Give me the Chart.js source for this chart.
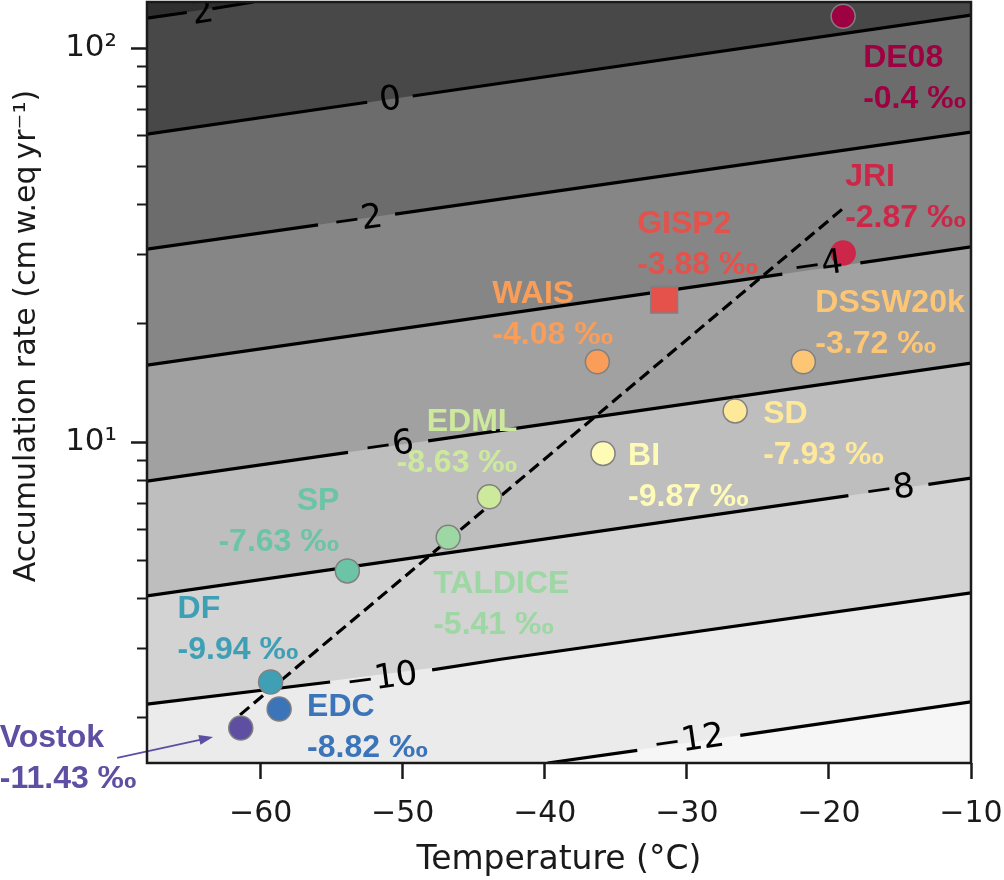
<!DOCTYPE html>
<html>
<head>
<meta charset="utf-8">
<script src="https://cdn.jsdelivr.net/npm/chart.js@4.4.1/dist/chart.umd.min.js"></script>
<style>
  html, body { margin: 0; padding: 0; background: #fff; }
  #wrap { width: 1004px; height: 880px; }
</style>
</head>
<body>
<div id="wrap"><canvas id="myChart"></canvas></div>
<script>
const ctx = document.getElementById('myChart').getContext('2d');

// ice core sites
const siteNames = ['DE08', 'JRI', 'GISP2', 'WAIS', 'DSSW20k', 'SD', 'BI', 'EDML', 'TALDICE', 'SP', 'DF', 'EDC', 'Vostok'];
const siteTemp = [-19.0, -19.0, -31.6, -36.3, -21.8, -26.6, -35.9, -43.9, -46.8, -53.9, -59.3, -58.7, -61.4];
const siteAccum = [120.5, 30.2, 23.0, 16.0, 16.0, 12.0, 9.36, 7.26, 5.73, 4.71, 2.46, 2.10, 1.88];
const siteDelta = ['-0.4', '-2.87', '-3.88', '-4.08', '-3.72', '-7.93', '-9.87', '-8.63', '-5.41', '-7.63', '-9.94', '-8.82', '-11.43'];

// dashed fit line
const fitX = [-61.45, -19.0];
const fitY = [2.03, 39.2];

// contour lines (level, traced points)
const contourLevels = [2, 0, -2, -4, -6, -8, -10, -12];
const contourX = [
    [-68, -60.5],
    [-68, -10],
    [-68, -10],
    [-68, -10],
    [-68, -10],
    [-68, -10],
    [-68, -43.1, -10],
    [-39.8, -10]
];
const contourY = [
    [119.2, 131],
    [60.5, 121.3],
    [30.9, 61.2],
    [15.68, 31.3],
    [7.96, 15.87],
    [4.07, 8.10],
    [2.16, 2.81, 4.14],
    [1.532, 2.19]
];
// where each contour is cut for its inline label
const gapX = [[-65.2, -63.4], [-52.5, -49.3], [-55.96, -50.54], [-23.28, -17.79], [-53.85, -48.21], [-18.63, -13.0], [-55.11, -47.93], [-33.49, -26.24]];
const gapY = [[123.2, 125.9], [72.9, 75.6], [35.6, 37.9], [26.7, 28.5], [9.42, 10.07], [7.31, 7.81], [2.46, 2.64], [1.65, 1.80]];
const labelX = [-64.1, -50.9, -53.2, -20.8, -51.0, -15.75, -51.5, -29.9];
const labelY = [124.9, 75.1, 37.2, 28.5, 9.94, 7.69, 2.55, 1.773];

// axes
const tempTicks = [-60, -50, -40, -30, -20, -10];
const accumTicks = [2, 3, 4, 5, 6, 7, 8, 9, 10, 20, 30, 40, 50, 60, 70, 80, 90, 100];
const accumTickLabels = ['', '', '', '', '', '', '', '', '10\u00b9', '', '', '', '', '', '', '', '', '10\u00b2'];

// styles
const bandTop = '#484848';
const bandColors = ['#2f2f2f', '#6c6c6c', '#868686', '#a1a1a1', '#bebebe', '#d3d3d3', '#ebebeb', '#f6f6f6'];
const siteColors = ['#9e0142', '#cc2748', '#e4524b', '#f99d59', '#fdc675', '#fee899', '#fdfbb6', '#cdea9c', '#9dd7a3', '#6bc4a5', '#3f9fb5', '#3b74b8', '#5e4fa2'];
const siteMarker = ['circle', 'circle', 'rect', 'circle', 'circle', 'circle', 'circle', 'circle', 'circle', 'circle', 'circle', 'circle', 'circle'];
const siteRadius = [12, 12, 19, 12, 12, 12, 12, 12, 12, 12, 12, 12, 12];
const siteEdge = siteColors.map((c, i) => i === 1 ? c : '#808080');
// label anchor offset from the marker (px): dx, dy to first baseline, alignment
const siteLabelDx = [20, 2, -27, -105, 12, 28, 25, 28, -15, -8, -93, 28, -241];
const siteLabelDy = [51, -67, -67, -59, -50, 12, 12, -66, 56, -61, -64, 7, 19];
const siteLabelAlign = ['left', 'left', 'left', 'left', 'left', 'left', 'left', 'right', 'left', 'right', 'left', 'left', 'left'];
const arrowFrom = [-70.1, 1.578];
const arrowTo = [-63.35, 1.784];

const fillSets = contourLevels.map((lev, i) => ({
    type: 'line',
    data: contourX[i].map((x, j) => ({ x: x, y: contourY[i][j] })),
    borderWidth: 0,
    borderColor: 'transparent',
    pointRadius: 0,
    fill: i === 0 ? 'end' : 'start',
    backgroundColor: bandColors[i],
    order: 100 - i
}));

const lineSets = contourLevels.map((lev, i) => {
    const pts = [];
    contourX[i].forEach((x, j) => { if (x < gapX[i][0]) pts.push({ x: x, y: contourY[i][j] }); });
    pts.push({ x: gapX[i][0], y: gapY[i][0] });
    pts.push({ x: (gapX[i][0] + gapX[i][1]) / 2, y: null });
    pts.push({ x: gapX[i][1], y: gapY[i][1] });
    contourX[i].forEach((x, j) => { if (x > gapX[i][1]) pts.push({ x: x, y: contourY[i][j] }); });
    return {
        type: 'line',
        data: pts,
        borderColor: '#000',
        borderWidth: 3.2,
        pointRadius: 0,
        fill: false,
        spanGaps: false,
        order: 50
    };
});

const fitSet = {
    type: 'line',
    data: fitX.map((x, i) => ({ x: x, y: fitY[i] })),
    borderColor: '#000',
    borderWidth: 3.2,
    borderDash: [12, 6],
    pointRadius: 0,
    fill: false,
    order: 40
};

const siteSet = {
    type: 'scatter',
    data: siteTemp.map((x, i) => ({ x: x, y: siteAccum[i] })),
    backgroundColor: siteColors,
    borderColor: siteEdge,
    borderWidth: 1.5,
    pointStyle: siteMarker,
    pointRadius: siteRadius,
    pointHoverRadius: siteRadius,
    order: 0
};

// value line "-4.08 ‰" with a wide per-mille sign
function drawValue(c, text, x, y, align) {
    const head = text + ' ';
    const wHead = c.measureText(head).width;
    const wSign = c.measureText('\u2030').width;
    const stretch = 1.22;
    let left = align === 'right' ? x - wHead - wSign * stretch : x;
    c.textAlign = 'left';
    c.fillText(head, left, y);
    c.save();
    c.translate(left + wHead, y);
    c.scale(stretch, 1);
    c.fillText('\u2030', 0, 0);
    c.restore();
}

const decorations = {
    id: 'decorations',
    beforeDatasetsDraw(chart) {
        const a = chart.chartArea;
        const c = chart.ctx;
        c.save();
        c.fillStyle = bandTop;
        c.fillRect(a.left, a.top, a.right - a.left, a.bottom - a.top);
        c.restore();
    },
    afterDatasetsDraw(chart) {
        const a = chart.chartArea;
        const c = chart.ctx;
        const xs = chart.scales.x;
        const ys = chart.scales.y;

        // contour labels
        c.save();
        c.beginPath();
        c.rect(a.left, a.top, a.right - a.left, a.bottom - a.top);
        c.clip();
        c.font = '34px "DejaVu Sans"';
        c.fillStyle = '#000';
        c.textAlign = 'center';
        c.textBaseline = 'alphabetic';
        contourLevels.forEach((lev, i) => {
            const n = contourX[i].length - 1;
            const ang = Math.atan2(
                ys.getPixelForValue(contourY[i][n]) - ys.getPixelForValue(contourY[i][0]),
                xs.getPixelForValue(contourX[i][n]) - xs.getPixelForValue(contourX[i][0]));
            c.save();
            c.translate(xs.getPixelForValue(labelX[i]), ys.getPixelForValue(labelY[i]));
            c.rotate(ang);
            c.fillText(lev < 0 ? '\u2212' + Math.abs(lev) : String(lev), 0, 12.4);
            c.restore();
        });
        c.restore();

        // site labels
        c.save();
        c.font = 'bold 32px "Liberation Sans"';
        c.textBaseline = 'alphabetic';
        siteNames.forEach((name, i) => {
            const px = xs.getPixelForValue(siteTemp[i]) + siteLabelDx[i];
            const py = ys.getPixelForValue(siteAccum[i]) + siteLabelDy[i];
            c.fillStyle = siteColors[i];
            c.textAlign = siteLabelAlign[i];
            c.fillText(name, px, py);
            drawValue(c, siteDelta[i], px, py + 41, siteLabelAlign[i]);
        });

        // Vostok arrow
        const x0 = xs.getPixelForValue(arrowFrom[0]), y0 = ys.getPixelForValue(arrowFrom[1]);
        const x1 = xs.getPixelForValue(arrowTo[0]), y1 = ys.getPixelForValue(arrowTo[1]);
        const ang = Math.atan2(y1 - y0, x1 - x0);
        c.strokeStyle = siteColors[12];
        c.fillStyle = siteColors[12];
        c.lineWidth = 1.8;
        c.beginPath();
        c.moveTo(x0, y0);
        c.lineTo(x1 - 10 * Math.cos(ang), y1 - 10 * Math.sin(ang));
        c.stroke();
        c.beginPath();
        c.moveTo(x1, y1);
        c.lineTo(x1 - 14 * Math.cos(ang) + 5 * Math.sin(ang), y1 - 14 * Math.sin(ang) - 5 * Math.cos(ang));
        c.lineTo(x1 - 14 * Math.cos(ang) - 5 * Math.sin(ang), y1 - 14 * Math.sin(ang) + 5 * Math.cos(ang));
        c.closePath();
        c.fill();

        // frame
        c.strokeStyle = '#1a1a1a';
        c.lineWidth = 2.5;
        c.strokeRect(a.left, a.top, a.right - a.left, a.bottom - a.top);

        // y axis title
        c.translate(35, 336);
        c.rotate(-Math.PI / 2);
        c.font = '30px "DejaVu Sans"';
        c.fillStyle = '#1a1a1a';
        c.textAlign = 'center';
        c.fillText('Accumulation rate (cm\u2009w.eq\u2009yr\u207b\u00b9)', 0, 0);
        c.restore();
    }
};

const config = {
    type: 'scatter',
    data: {
        datasets: [...fillSets, ...lineSets, fitSet, siteSet]
    },
    options: {
        responsive: true,
        maintainAspectRatio: false,
        animation: false,
        layout: { autoPadding: false, padding: { top: 2, right: 33, bottom: 0, left: 0 } },
        plugins: {
            legend: { display: false },
            tooltip: { enabled: false }
        },
        scales: {
            x: {
                type: 'linear',
                min: -68,
                max: -10,
                afterBuildTicks: s => { s.ticks = tempTicks.map(v => ({ value: v })); },
                afterFit: s => { s.height = 117; s.paddingLeft = 0; s.paddingRight = 0; },
                ticks: {
                    callback: v => String(v).replace('-', '\u2212'),
                    font: { family: 'DejaVu Sans', size: 30 },
                    color: '#1a1a1a',
                    padding: 17,
                    autoSkip: false,
                    maxRotation: 0
                },
                grid: { drawOnChartArea: false, tickLength: 16, tickWidth: 2.5, tickColor: '#1a1a1a' },
                border: { display: false },
                title: {
                    display: true,
                    text: 'Temperature (°C)',
                    font: { family: 'DejaVu Sans', size: 33 },
                    color: '#1a1a1a',
                    padding: { top: 0, bottom: 0 }
                }
            },
            y: {
                type: 'logarithmic',
                min: 1.532,
                max: 131,
                afterBuildTicks: s => { s.ticks = accumTicks.map(v => ({ value: v })); },
                afterFit: s => { s.width = 147; s.paddingTop = 0; s.paddingBottom = 0; },
                ticks: {
                    callback: v => accumTickLabels[accumTicks.indexOf(v)] || '',
                    font: { family: 'DejaVu Sans', size: 31 },
                    color: '#1a1a1a',
                    padding: 14,
                    autoSkip: false
                },
                grid: {
                    drawOnChartArea: false,
                    tickLength: 16,
                    tickColor: '#1a1a1a',
                    tickWidth: c => (c.tick && accumTickLabels[accumTicks.indexOf(c.tick.value)]) ? 2.5 : 2,
                    tickBorderDash: c => (c.tick && accumTickLabels[accumTicks.indexOf(c.tick.value)]) ? [] : [10, 6],
                    tickBorderDashOffset: c => (c.tick && accumTickLabels[accumTicks.indexOf(c.tick.value)]) ? 0 : 10
                },
                border: { display: false }
            }
        }
    },
    plugins: [decorations]
};

const myChart = new Chart(ctx, config);
</script>
</body>
</html>
